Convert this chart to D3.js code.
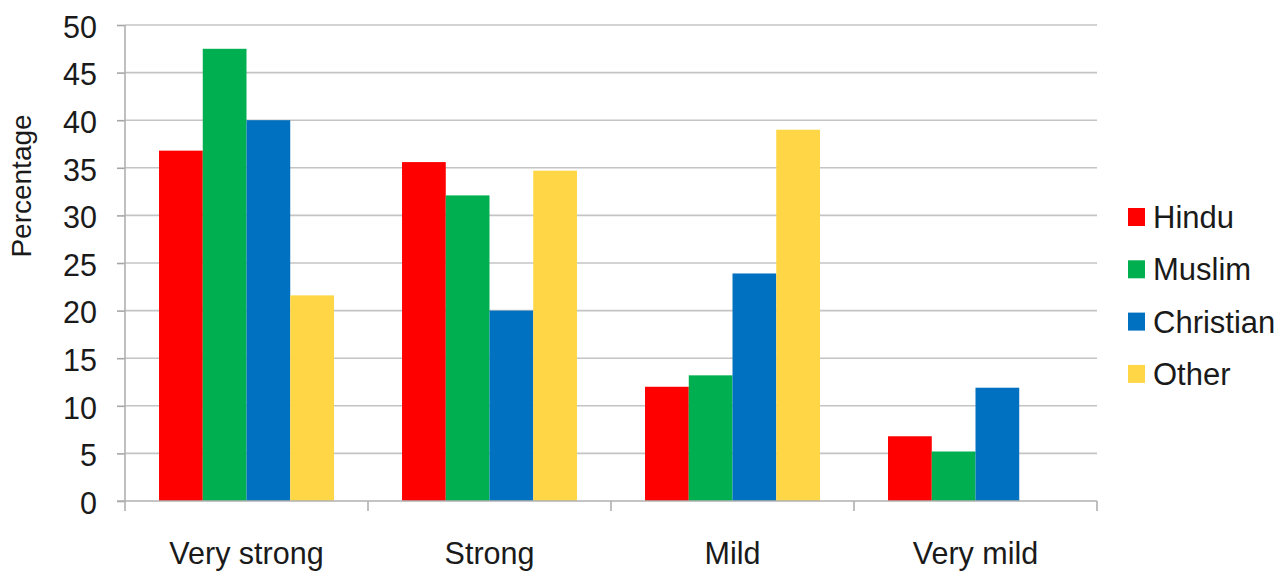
<!DOCTYPE html>
<html>
<head>
<meta charset="utf-8">
<script src="https://cdn.jsdelivr.net/npm/d3@7"></script>
<style>
  html, body { margin: 0; padding: 0; background: #fff; }
  svg { display: block; font-family: "Liberation Sans", Arial, sans-serif; }
</style>
</head>
<body>
<svg id="chart" width="1286" height="575"></svg>
<script>
const categories = ["Very strong", "Strong", "Mild", "Very mild"];
const seriesNames = ["Hindu", "Muslim", "Christian", "Other"];
const hindu     = [36.8, 35.6, 12.0, 6.8];
const muslim    = [47.5, 32.1, 13.2, 5.2];
const christian = [40.0, 20.0, 23.9, 11.9];
const other     = [21.6, 34.7, 39.0, 0];
const seriesColors = ["#FF0000", "#00B050", "#0070C0", "#FFD746"];
const yTicks = [0, 5, 10, 15, 20, 25, 30, 35, 40, 45, 50];
const yTitle = "Percentage";

const seriesValues = [hindu, muslim, christian, other];

const svg = d3.select("#chart");
const plot = { left: 125, right: 1097, top: 25, bottom: 501 };

const x = d3.scaleBand().domain(categories)
  .range([plot.left, plot.right]).paddingInner(0.28).paddingOuter(0.14);
const xs = d3.scaleBand().domain(seriesNames).range([0, x.bandwidth()]);
const y = d3.scaleLinear().domain([0, 50]).range([plot.bottom, plot.top]);

// gridlines
svg.append("g").selectAll("line").data(yTicks.filter(d => d > 0)).join("line")
  .attr("x1", plot.left).attr("x2", plot.right)
  .attr("y1", d => y(d)).attr("y2", d => y(d))
  .attr("stroke", "#c4c4c4").attr("stroke-width", 1.6);

// bars
const groups = svg.append("g").selectAll("g").data(categories).join("g")
  .attr("transform", c => `translate(${x(c)},0)`);
groups.selectAll("rect")
  .data((c, ci) => seriesNames.map((s, si) => ({ s, si, v: seriesValues[si][ci] })))
  .join("rect")
  .attr("x", d => xs(d.s))
  .attr("width", xs.bandwidth())
  .attr("y", d => y(d.v))
  .attr("height", d => y(0) - y(d.v))
  .attr("fill", d => seriesColors[d.si]);

// y axis
const yAxis = svg.append("g").attr("transform", `translate(${plot.left},0)`)
  .call(d3.axisLeft(y).tickValues(yTicks).tickSize(8).tickPadding(20).tickSizeOuter(0));
yAxis.select(".domain").remove();
yAxis.selectAll(".tick line").attr("stroke", "#a6a6a6").attr("stroke-width", 1.6);
yAxis.selectAll(".tick text").attr("font-size", 30.5).attr("fill", "#1a1a1a")
  .attr("dy", "0.4em").attr("font-family", "Liberation Sans, Arial, sans-serif");
svg.append("line")
  .attr("x1", plot.left).attr("x2", plot.left)
  .attr("y1", plot.top).attr("y2", plot.bottom + 10)
  .attr("stroke", "#b0b0b0").attr("stroke-width", 1.6);

// x axis
const xAxis = svg.append("g").attr("transform", `translate(0,${plot.bottom})`)
  .call(d3.axisBottom(x).tickSize(0).tickPadding(41));
xAxis.select(".domain").remove();
xAxis.selectAll(".tick text").attr("font-size", 30.5).attr("fill", "#1a1a1a")
  .attr("font-family", "Liberation Sans, Arial, sans-serif");
svg.append("line")
  .attr("x1", plot.left - 8).attr("x2", plot.right)
  .attr("y1", plot.bottom).attr("y2", plot.bottom)
  .attr("stroke", "#b0b0b0").attr("stroke-width", 1.6);
const boundaries = categories.map(c => x(c) + x.bandwidth() + x.step() * x.paddingInner() / 2);
svg.append("g").selectAll("line").data(boundaries).join("line")
  .attr("x1", d => d).attr("x2", d => d)
  .attr("y1", plot.bottom).attr("y2", plot.bottom + 10)
  .attr("stroke", "#b0b0b0").attr("stroke-width", 1.6);

// y title
svg.append("text")
  .attr("transform", "translate(31,186) rotate(-90)")
  .attr("text-anchor", "middle")
  .attr("font-size", 28).attr("fill", "#1a1a1a")
  .text(yTitle);

// legend
const legend = svg.append("g").selectAll("g").data(seriesNames).join("g")
  .attr("transform", (d, i) => `translate(1128,${217 + i * 52.3})`);
legend.append("rect").attr("x", 0).attr("y", -9).attr("width", 17).attr("height", 18)
  .attr("fill", (d, i) => seriesColors[i]);
legend.append("text").attr("x", 25).attr("y", 11)
  .attr("font-size", 31).attr("fill", "#1a1a1a").text(d => d);
</script>
</body>
</html>
